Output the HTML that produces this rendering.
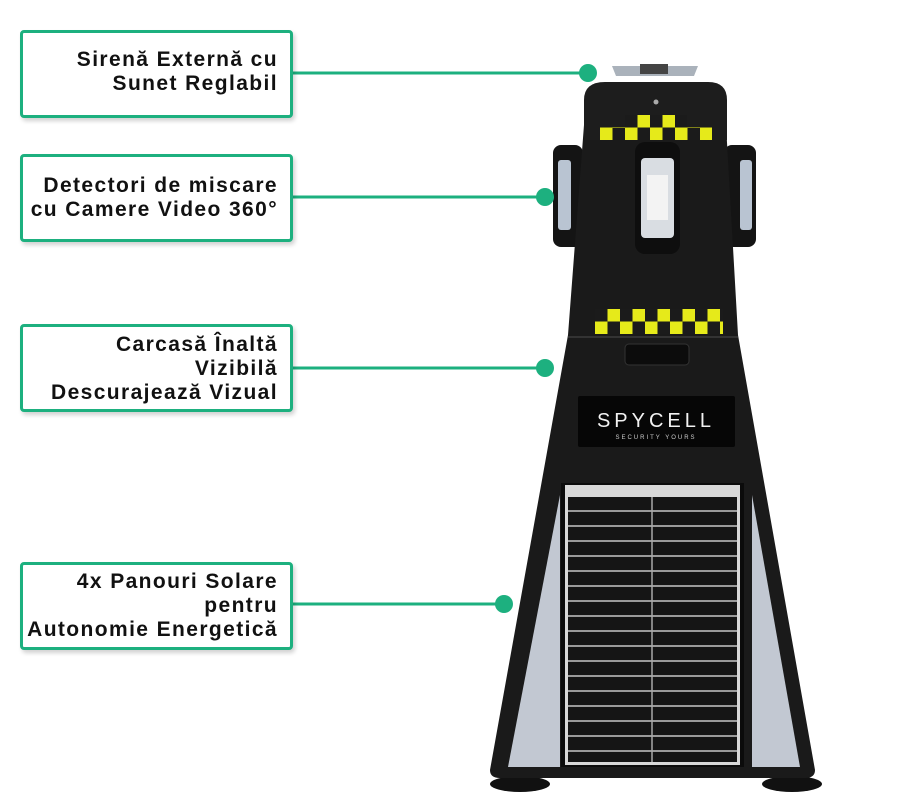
<!DOCTYPE html>
<html><head><meta charset="utf-8"><style>
html,body{margin:0;padding:0;background:#fff;}
body{width:922px;height:811px;overflow:hidden;position:relative;font-family:"Liberation Sans",Arial,sans-serif;}
.box{position:absolute;left:20px;width:273px;border:3px solid #1db07f;border-radius:4px;background:#fff;box-shadow:2px 3px 4px rgba(0,0,0,.18);box-sizing:border-box;text-align:right;font-weight:bold;font-size:21px;line-height:24px;letter-spacing:1.4px;color:#111;padding-right:12px;}
svg{position:absolute;left:0;top:0;}
</style></head><body>
<svg width="922" height="811" viewBox="0 0 922 811">
<defs>
<pattern id="chk" x="600" y="115" width="25" height="25" patternUnits="userSpaceOnUse">
<rect width="25" height="25" fill="#1b1b1b"/><rect x="12.5" width="12.5" height="12.5" fill="#e6ea1a"/><rect y="12.5" width="12.5" height="12.5" fill="#e6ea1a"/>
</pattern>
<pattern id="chk2" x="595" y="309" width="25" height="25" patternUnits="userSpaceOnUse">
<rect width="25" height="25" fill="#1b1b1b"/><rect x="12.5" width="12.5" height="12.5" fill="#e6ea1a"/><rect y="12.5" width="12.5" height="12.5" fill="#e6ea1a"/>
</pattern>
<pattern id="sol" x="565" y="497" width="22" height="15" patternUnits="userSpaceOnUse">
<rect width="22" height="15" fill="#151515"/><rect y="13" width="22" height="2" fill="#9a9a9a"/>
</pattern>
</defs>
<g stroke="#1db07f" stroke-width="3">
<line x1="292" y1="73" x2="588" y2="73"/>
<line x1="292" y1="197" x2="545" y2="197"/>
<line x1="292" y1="368" x2="545" y2="368"/>
<line x1="292" y1="604" x2="504" y2="604"/>
</g>
<ellipse cx="520" cy="784" rx="30" ry="8" fill="#111"/>
<ellipse cx="792" cy="784" rx="30" ry="8" fill="#111"/>
<path d="M612 66 L698 66 L694 76 L616 76Z" fill="#aab2bb"/>
<rect x="640" y="64" width="28" height="10" fill="#444"/>
<rect x="553" y="145" width="30" height="102" rx="8" fill="#141414"/>
<rect x="558" y="160" width="13" height="70" rx="3" fill="#b9c4d2"/>
<rect x="724" y="145" width="32" height="102" rx="8" fill="#141414"/>
<rect x="740" y="160" width="12" height="70" rx="3" fill="#b9c4d2"/>
<path d="M584 125 L726 125 L738 335 L815 770 Q815 778 805 778 L500 778 Q490 778 490 770 L568 335 Z" fill="#1a1a1a"/>
<path d="M584 140 L584 100 Q584 82 605 82 L708 82 Q727 82 727 100 L727 140 Z" fill="#1d1d1d"/>
<circle cx="656" cy="102" r="2.5" fill="#aaa"/>
<rect x="600" y="127" width="112" height="13" fill="url(#chk)"/>
<rect x="625" y="115" width="62" height="12" fill="url(#chk)"/>
<rect x="635" y="142" width="45" height="112" rx="10" fill="#0e0e0e"/>
<rect x="641" y="158" width="33" height="80" rx="4" fill="#d9dde2"/>
<rect x="647" y="175" width="21" height="45" fill="#f3f3f3"/>
<rect x="595" y="309" width="128" height="25" fill="url(#chk2)"/>
<line x1="568" y1="337" x2="738" y2="337" stroke="#333" stroke-width="2"/>
<rect x="625" y="344" width="64" height="21" rx="4" fill="#0c0c0c" stroke="#333"/>
<rect x="578" y="396" width="157" height="51" rx="2" fill="#060606"/>
<text x="656" y="427" text-anchor="middle" font-family="Liberation Sans,sans-serif" font-size="20" letter-spacing="4" fill="#f2f2f2">SPYCELL</text>
<text x="656" y="439" text-anchor="middle" font-family="Liberation Sans,sans-serif" font-size="6" letter-spacing="2" fill="#ccc">SECURITY YOURS</text>
<path d="M560 495 L560 767 L508 767 Z" fill="#c2c8d2"/>
<path d="M752 495 L752 767 L800 767 Z" fill="#c2c8d2"/>
<rect x="561" y="483" width="183" height="284" fill="#0b0b0b"/>
<rect x="565" y="485" width="175" height="280" fill="#d8d8d8"/>
<rect x="568" y="497" width="169" height="265" fill="url(#sol)"/>
<line x1="652" y1="497" x2="652" y2="762" stroke="#aaa" stroke-width="1.5"/>
<g fill="#1db07f">
<circle cx="588" cy="73" r="9"/>
<circle cx="545" cy="197" r="9"/>
<circle cx="545" cy="368" r="9"/>
<circle cx="504" cy="604" r="9"/>
</g>
</svg>
<div class="box" style="top:30px;height:88px;padding-top:15px;">Sirenă Externă cu<br>Sunet Reglabil</div>
<div class="box" style="top:154px;height:88px;padding-top:17px;">Detectori de miscare<br>cu Camere Video 360°</div>
<div class="box" style="top:324px;height:88px;padding-top:6px;">Carcasă Înaltă<br>Vizibilă<br>Descurajează Vizual</div>
<div class="box" style="top:562px;height:88px;padding-top:5px;">4x Panouri Solare<br>pentru<br>Autonomie Energetică</div>
</body></html>
